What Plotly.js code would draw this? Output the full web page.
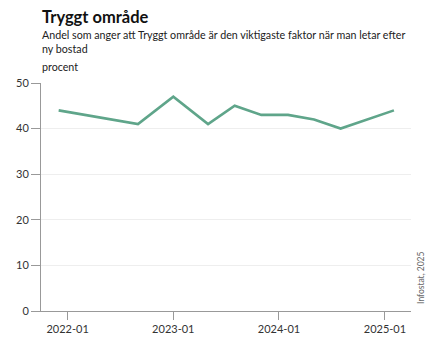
<!DOCTYPE html>
<html>
<head>
<meta charset="utf-8">
<script src="https://cdn.plot.ly/plotly-3.0.1.min.js"></script>
<style>html,body{margin:0;padding:0;background:#fff;}#chart{width:448px;height:354px;}</style>
</head>
<body>
<div id="chart"></div>
<script>
const months = ['2021-12-01','2022-09-01','2023-01-01','2023-05-01','2023-08-01','2023-11-01','2024-02-01','2024-05-01','2024-08-01','2025-02-01'];
const values = [44, 41, 47, 41, 45, 43, 43, 42, 40, 44];
const xTickVals = ['2022-01-01','2023-01-01','2024-01-01','2025-01-01'];
const xTickText = ['2022-01','2023-01','2024-01','2025-01'];
const yTickVals = [0, 10, 20, 30, 40, 50];

const FONT = 'Lato, "Open Sans", sans-serif';

Plotly.newPlot('chart', [{
  x: months,
  y: values,
  type: 'scatter',
  mode: 'lines',
  line: {color: '#5fa58a', width: 2.6},
  hoverinfo: 'x+y'
}], {
  width: 448, height: 354,
  margin: {l: 41, r: 37, t: 83, b: 43},
  paper_bgcolor: '#fff', plot_bgcolor: '#fff',
  font: {family: FONT, size: 10, color: '#333'},
  showlegend: false,
  xaxis: {
    type: 'date',
    range: ['2021-10-01', '2025-04-01'],
    tickvals: xTickVals, ticktext: xTickText,
    showgrid: false, zeroline: false,
    showline: true, linecolor: '#999', linewidth: 1,
    ticks: 'outside', ticklen: 8, tickcolor: '#999',
    tickfont: {family: FONT, size: 11, color: '#333'}
  },
  yaxis: {
    range: [0, 50],
    tickvals: yTickVals,
    showgrid: true, gridcolor: '#eeeeee', zeroline: false,
    showline: true, linecolor: '#999', linewidth: 1,
    ticks: 'outside', ticklen: 9, tickcolor: '#999',
    tickfont: {family: FONT, size: 11, color: '#333'}
  },
  annotations: [
    {text: '<b>Tryggt område</b>', xref: 'paper', yref: 'paper', x: -0.003, y: 1, xanchor: 'left', yanchor: 'bottom',
     yshift: 54, showarrow: false, font: {family: FONT, size: 16.5, color: '#111'}},
    {text: 'Andel som anger att Tryggt område är den viktigaste faktor när man letar efter<br>ny bostad',
     xref: 'paper', yref: 'paper', x: -0.003, y: 1, xanchor: 'left', yanchor: 'bottom', align: 'left',
     yshift: 26, showarrow: false, font: {family: FONT, size: 10.7, color: '#222'}},
    {text: 'procent', xref: 'paper', yref: 'paper', x: -0.003, y: 1, xanchor: 'left', yanchor: 'bottom',
     yshift: 8, showarrow: false, font: {family: FONT, size: 10.7, color: '#222'}},
    {text: 'Infostat, 2025', xref: 'paper', yref: 'paper', x: 1, y: 0.145, xanchor: 'left', yanchor: 'middle',
     xshift: 3, textangle: -90, showarrow: false, font: {family: FONT, size: 8.5, color: '#666'}}
  ]
}, {displayModeBar: false, staticPlot: true});
</script>
</body>
</html>
